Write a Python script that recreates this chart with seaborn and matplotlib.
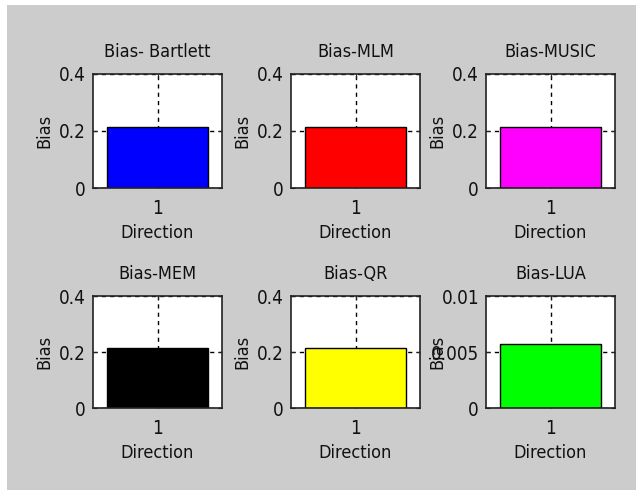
import seaborn as sns
import matplotlib.pyplot as plt
from matplotlib.patches import Rectangle

# chart data
titles = ['Bias- Bartlett', 'Bias-MLM', 'Bias-MUSIC', 'Bias-MEM', 'Bias-QR', 'Bias-LUA']
bias = [0.215, 0.215, 0.215, 0.215, 0.215, 0.0057]
colors = ['#0000ff', '#ff0000', '#ff00ff', '#000000', '#ffff00', '#00ff00']
ymax = [0.4, 0.4, 0.4, 0.4, 0.4, 0.01]
yticks = [[0, 0.2, 0.4]] * 5 + [[0, 0.005, 0.01]]
yticklabels = [['0', '0.2', '0.4']] * 5 + [['0', '0.005', '0.01']]
direction = ['1']

sns.set_style('ticks')
plt.rcParams['font.family'] = ['DejaVu Sans']
plt.rcParams['font.stretch'] = 'condensed'
plt.rcParams['font.size'] = 13
plt.rcParams['text.color'] = '#111111'
plt.rcParams['axes.labelcolor'] = '#111111'

W, H = 636, 490
fig = plt.figure(figsize=(W / 100, H / 100), dpi=100, facecolor='white')
fig.patches.append(Rectangle((7 / W, 0), 1, 1 - 5 / H, transform=fig.transFigure,
                             facecolor='#cccccc', edgecolor='none', zorder=-10))

lefts = [93, 291, 486]
rows = [(74, 188), (296, 408)]

for i in range(6):
    r, c = divmod(i, 3)
    top, bot = rows[r]
    ax = fig.add_axes([lefts[c] / W, 1 - bot / H, 129 / W, (bot - top) / H])
    ax.set_facecolor('white')
    sns.barplot(x=direction, y=[bias[i]], color=colors[i], edgecolor='black',
                linewidth=1.0, width=0.78, saturation=1, ax=ax)
    ax.set_xlim(-0.5, 0.5)
    ax.set_ylim(0, ymax[i])
    ax.set_yticks(yticks[i])
    ax.set_yticklabels(yticklabels[i])
    ax.grid(True, color='black', linestyle=(0, (3, 3)), linewidth=1.0)
    ax.set_axisbelow(True)
    for s in ax.spines.values():
        s.set_visible(True)
        s.set_linewidth(1.2)
        s.set_color('#222222')
    ax.tick_params(direction='in', length=3, top=True, right=True,
                   labelsize=13.5, colors='#222222', labelcolor='#111111')
    ax.tick_params(axis='x', pad=8)
    ax.tick_params(axis='y', pad=5)
    ax.set_title(titles[i], fontsize=13, pad=12)
    ax.set_xlabel('Direction', fontsize=13, labelpad=4)
    ax.set_ylabel('Bias', fontsize=13)
    ax.yaxis.set_label_coords(-40 / 129, 0.5)

fig.savefig('out.png', dpi=100)
